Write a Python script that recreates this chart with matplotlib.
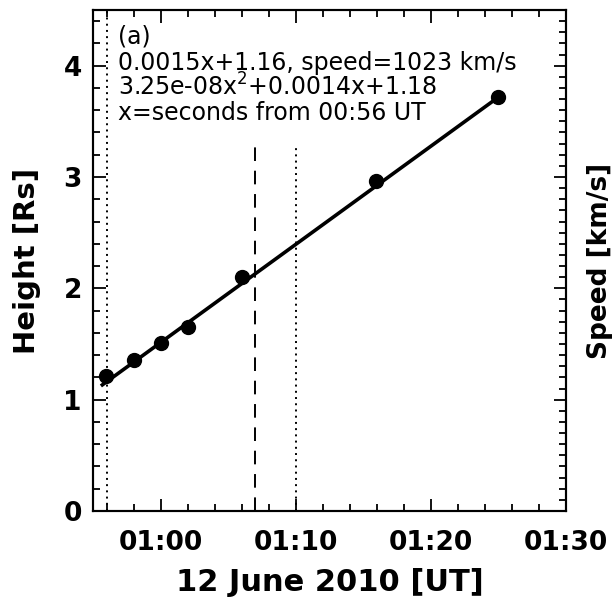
import numpy as np
import matplotlib
matplotlib.use("Agg")
import matplotlib.pyplot as plt
from matplotlib.ticker import MultipleLocator, FuncFormatter

# height-time measurements, 12 June 2010
times = ["00:55:56", "00:58:00", "01:00:00", "01:02:00", "01:06:00", "01:15:56", "01:24:56"]
heights = [1.21, 1.36, 1.51, 1.65, 2.10, 2.96, 3.72]

# linear fit: h = intercept + slope*x, x = seconds from 00:56 UT
fit_ref = "00:56:00"
fit_intercept = 1.16
fit_speed = 1023.0        # km/s
rsun_km = 696000.0
fit_span = ["00:55:35", "01:25:15"]

# marker lines
dotted_full = "00:56:00"
dashed_t = "01:07:00"
dotted_t = "01:10:00"
marker_top = 3.3

fit_text = ["(a)",
            "0.0015x+1.16, speed=1023 km/s",
            "3.25e-08x$^2$+0.0014x+1.18",
            "x=seconds from 00:56 UT"]


def minutes(s):
    h, m, sec = [int(v) for v in s.split(":")]
    return h * 60 + m + sec / 60.0


def hhmm(v, pos):
    v = int(round(v))
    return "%02d:%02d" % (v // 60, v % 60)


t = np.array([minutes(s) for s in times])
h = np.array(heights)

t0 = minutes(fit_ref)
slope = fit_speed / rsun_km
tf = np.array([minutes(s) for s in fit_span])
hf = fit_intercept + slope * (tf - t0) * 60.0

plt.rcParams['font.family'] = ['DejaVu Sans']

fig = plt.figure(figsize=(6.16, 5.99), dpi=100)
ax = fig.add_axes([93 / 616, (599 - 511) / 599, 473 / 616, 501 / 599])

ax.plot(tf, hf, color="black", lw=2.6, solid_capstyle="butt")
ax.plot(t, h, "o", color="black", ms=10)

ax.axvline(minutes(dotted_full), color="black", lw=1.4, ls=(0, (1, 2.2)))
ax.plot([minutes(dashed_t)] * 2, [0, marker_top], color="black", lw=1.4, ls=(0, (7, 5)))
ax.plot([minutes(dotted_t)] * 2, [0, marker_top], color="black", lw=1.4, ls=(0, (1, 2.2)))

ax.set_xlim(minutes("00:55:00"), minutes("01:30:00"))
ax.set_ylim(0, 4.5)

ax.xaxis.set_major_locator(MultipleLocator(10))
ax.xaxis.set_minor_locator(MultipleLocator(2))
ax.xaxis.set_major_formatter(FuncFormatter(hhmm))
ax.yaxis.set_major_locator(MultipleLocator(1))
ax.yaxis.set_minor_locator(MultipleLocator(0.2))

for sp in ax.spines.values():
    sp.set_linewidth(1.5)
ax.tick_params(which="both", direction="in", top=True, right=False, width=1.3)
ax.tick_params(which="major", length=9)
ax.tick_params(which="minor", length=5)
ax.tick_params(axis="x", pad=14, labelsize=19)
ax.tick_params(axis="y", pad=8, labelsize=19)
for lab in ax.get_xticklabels() + ax.get_yticklabels():
    lab.set_fontweight("bold")

ax.set_xlabel("12 June 2010 [UT]", fontsize=22, fontweight="bold", labelpad=8)
ax.set_ylabel("Height [Rs]", fontsize=21, fontweight="bold", labelpad=16)

# right-hand speed axis (no scale drawn)
ax2 = ax.twinx()
ax2.set_ylim(0, 4.5)
ax2.yaxis.set_major_locator(MultipleLocator(1))
ax2.yaxis.set_minor_locator(MultipleLocator(0.1))
ax2.tick_params(which="both", direction="in", labelright=False, width=1.3)
ax2.tick_params(which="major", length=9)
ax2.tick_params(which="minor", length=5)
ax2.set_ylabel("Speed [km/s]", fontsize=19, fontweight="bold", labelpad=15)
for sp in ax2.spines.values():
    sp.set_linewidth(1.5)

ys = [0.948, 0.895, 0.846, 0.794]
for s, y in zip(fit_text, ys):
    ax.text(0.053, y, s, transform=ax.transAxes, fontsize=17, va="center", ha="left")

fig.savefig("out.png", dpi=100)
